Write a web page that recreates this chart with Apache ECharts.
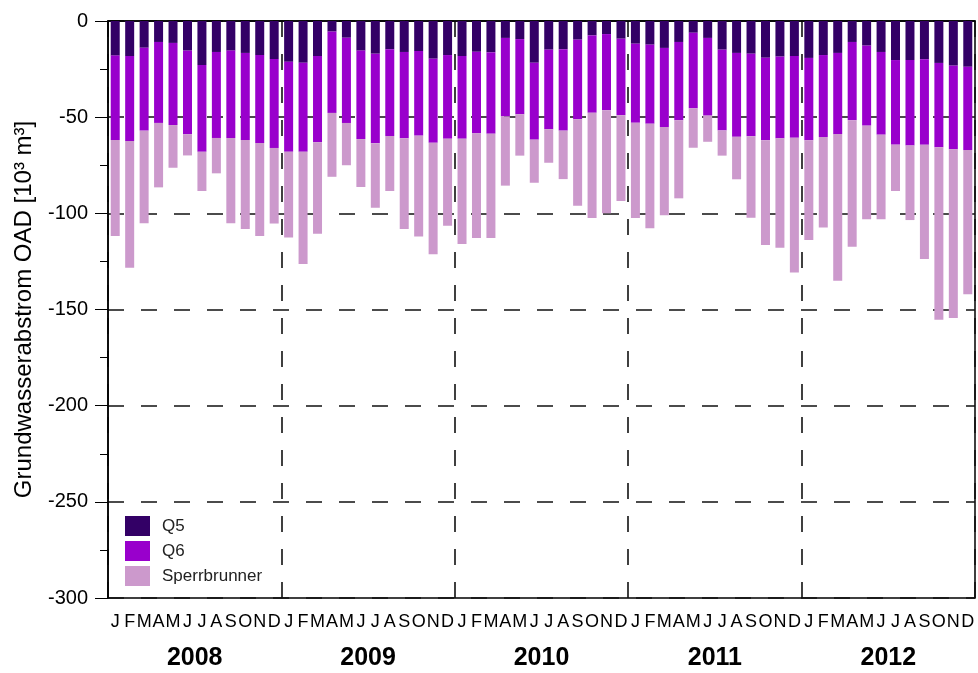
<!DOCTYPE html>
<html>
<head>
<meta charset="utf-8">
<script src="https://cdn.jsdelivr.net/npm/echarts@6/dist/echarts.min.js"></script>
<style>
html,body{margin:0;padding:0;background:#fff;}
#chart{width:978px;height:673px;}
</style>
</head>
<body>
<div id="chart"></div>
<script>
var months = ['J','F','M','A','M','J','J','A','S','O','N','D',
              'J','F','M','A','M','J','J','A','S','O','N','D',
              'J','F','M','A','M','J','J','A','S','O','N','D',
              'J','F','M','A','M','J','J','A','S','O','N','D',
              'J','F','M','A','M','J','J','A','S','O','N','D'];
var years = ['2008','2009','2010','2011','2012'];
var yTicks = [0, -50, -100, -150, -200, -250, -300];

var q5 = [
  -18.0,-18.2,-13.9,-10.9,-11.4,-15.4,-22.9,-16.1,-15.4,-16.6,-17.7,-19.8,
  -21.2,-21.7,-18.2,-5.5,-8.7,-15.4,-17.0,-14.7,-16.1,-15.6,-19.6,-17.7,
  -18.2,-16.0,-16.3,-8.8,-9.4,-21.7,-14.9,-14.7,-9.7,-7.5,-6.8,-9.2,
  -11.8,-12.3,-14.0,-10.9,-6.1,-8.8,-14.9,-16.6,-17.0,-19.1,-18.5,-18.2,
  -19.2,-17.7,-16.6,-10.9,-12.8,-16.1,-20.3,-20.3,-19.9,-21.8,-23.2,-23.8
];
var q6 = [
  -43.9,-44.2,-43.1,-42.1,-42.7,-43.5,-45.1,-44.7,-45.4,-45.3,-45.7,-46.2,
  -46.8,-46.3,-44.9,-42.3,-44.3,-46.0,-46.6,-45.1,-44.9,-44.0,-43.7,-43.5,
  -43.0,-42.4,-42.3,-40.8,-39.1,-40.0,-41.4,-42.3,-41.4,-40.2,-39.6,-39.8,
  -41.1,-41.1,-41.1,-40.7,-39.3,-40.4,-42.0,-43.6,-42.9,-42.9,-42.5,-42.5,
  -42.8,-42.6,-42.2,-40.7,-41.6,-43.0,-44.0,-44.4,-44.4,-43.9,-43.5,-43.3
];
var sperrbrunner = [
  -49.9,-65.9,-48.2,-33.5,-22.2,-11.0,-20.4,-18.4,-44.4,-46.3,-48.4,-39.3,
  -44.5,-58.4,-47.5,-33.2,-22.0,-24.9,-33.5,-28.6,-47.2,-52.5,-58.0,-45.2,
  -54.8,-54.4,-54.2,-36.0,-21.5,-22.4,-17.4,-25.2,-44.9,-54.7,-53.6,-44.6,
  -49.5,-54.4,-45.9,-40.6,-20.5,-13.6,-13.1,-22.1,-42.4,-54.5,-56.9,-70.0,
  -51.9,-47.1,-76.2,-65.8,-48.7,-44.0,-24.1,-38.8,-59.5,-89.6,-87.7,-75.0
];

var FONT = 'Liberation Sans, Arial, sans-serif';
var chart = echarts.init(document.getElementById('chart'), null, {renderer: 'canvas'});
var dash = {color: '#111', width: 1.6, type: [16, 17]};

chart.setOption({
  animation: false,
  backgroundColor: '#fff',
  textStyle: {fontFamily: FONT},
  grid: {left: 108, right: 3, top: 21, bottom: 75, show: true, borderColor: '#000', borderWidth: 1.5, backgroundColor: 'transparent'},
  legend: {
    orient: 'vertical', left: 125, top: 516, padding: 0,
    itemWidth: 25, itemHeight: 20, itemGap: 5,
    icon: 'rect',
    textStyle: {fontSize: 17, color: '#222', fontFamily: FONT, padding: [0, 0, 0, 7]},
    data: ['Q5', 'Q6', 'Sperrbrunner']
  },
  xAxis: [
    {
      type: 'category', data: months, boundaryGap: true,
      axisLine: {show: true, lineStyle: {color: '#000', width: 1.5}},
      axisTick: {show: false},
      axisLabel: {interval: 0, fontSize: 18, color: '#000', margin: 15, fontFamily: FONT},
      splitLine: {show: false}
    },
    {
      type: 'category', data: years, boundaryGap: true, position: 'bottom',
      axisLine: {show: false}, axisTick: {show: false},
      axisLabel: {interval: 0, fontSize: 25, fontWeight: 'bold', color: '#000', margin: 48, fontFamily: FONT},
      splitLine: {show: true, interval: 0, lineStyle: dash}
    }
  ],
  yAxis: {
    type: 'value', min: -300, max: 0, interval: 50,
    name: 'Grundwasserabstrom OAD [10³ m³]',
    nameLocation: 'middle', nameGap: 72, nameRotate: 90,
    nameTextStyle: {fontSize: 24, color: '#000', fontFamily: FONT},
    axisLine: {show: true, lineStyle: {color: '#000', width: 1.5}},
    axisTick: {show: true, inside: false, length: 13, lineStyle: {color: '#000', width: 1}},
    minorTick: {show: true, splitNumber: 2, length: 8, lineStyle: {color: '#000', width: 1}},
    axisLabel: {fontSize: 20, color: '#000', margin: 20, fontFamily: FONT,
      formatter: function (v) { return yTicks.indexOf(v) >= 0 ? String(v) : ''; }},
    splitLine: {show: true, lineStyle: dash}
  },
  series: [
    {name: 'Q5', type: 'bar', stack: 'total', data: q5, barWidth: 9, itemStyle: {color: '#330066'}},
    {name: 'Q6', type: 'bar', stack: 'total', data: q6, barWidth: 9, itemStyle: {color: '#9900CC'}},
    {name: 'Sperrbrunner', type: 'bar', stack: 'total', data: sperrbrunner, barWidth: 9, itemStyle: {color: '#CC99CC'}}
  ]
});
</script>
</body>
</html>
